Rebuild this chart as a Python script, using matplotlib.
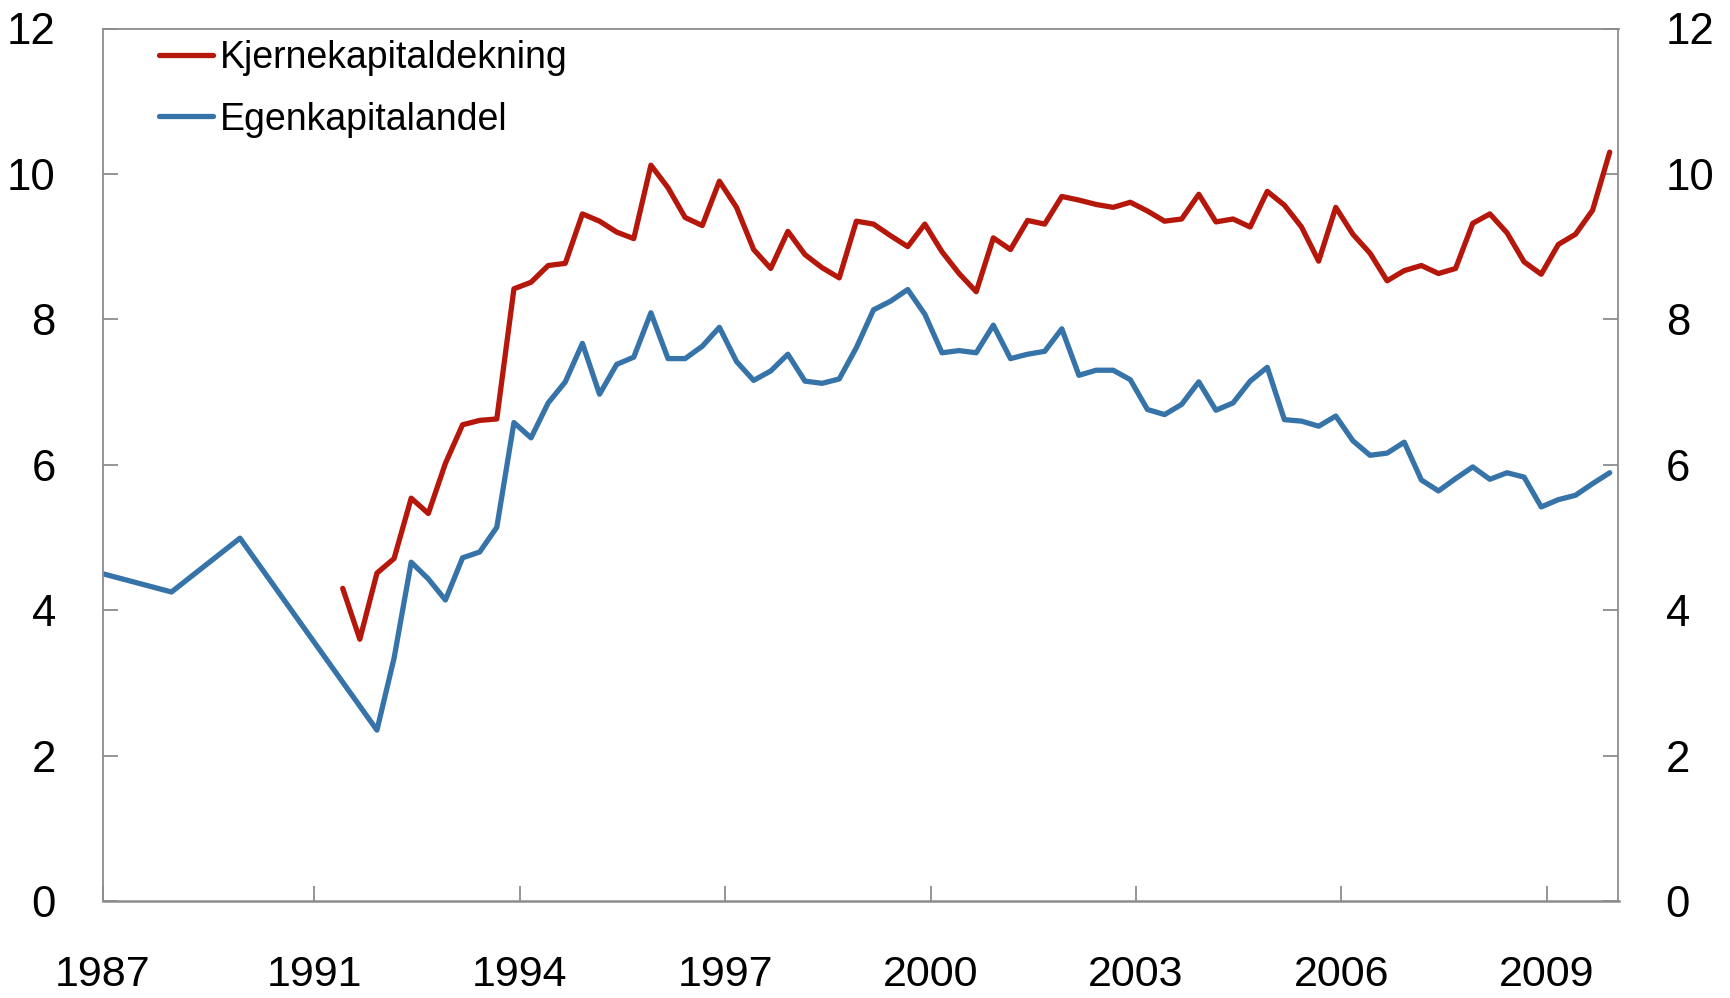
import matplotlib
matplotlib.use("Agg")
import matplotlib.pyplot as plt
import pandas as pd

plt.rcParams['font.family'] = ['Liberation Sans', 'DejaVu Sans']

# Egenkapitalandel: annual 1987-1989, then quarterly from 1991Q4
egen_years = [1987, 1988, 1989]
egen_annual = [4.50, 4.25, 4.99]
egen_start = '1991Q4'
egen_q = [2.35,
          3.34, 4.66, 4.43, 4.14,
          4.72, 4.80, 5.14, 6.58,
          6.37, 6.85, 7.14, 7.67,
          6.97, 7.38, 7.48, 8.09,
          7.46, 7.46, 7.63, 7.89,
          7.42, 7.16, 7.29, 7.52,
          7.15, 7.12, 7.18, 7.61,
          8.13, 8.25, 8.41, 8.07,
          7.54, 7.57, 7.54, 7.92,
          7.46, 7.52, 7.56, 7.87,
          7.23, 7.30, 7.30, 7.17,
          6.76, 6.69, 6.83, 7.14,
          6.75, 6.85, 7.15, 7.34,
          6.62, 6.60, 6.53, 6.67,
          6.33, 6.13, 6.16, 6.31,
          5.79, 5.64, 5.81, 5.97,
          5.80, 5.89, 5.83, 5.42,
          5.52, 5.58, 5.74, 5.89]

# Kjernekapitaldekning: quarterly from 1991Q2
kjerne_start = '1991Q2'
kjerne_q = [4.30, 3.60, 4.51,
            4.71, 5.54, 5.33, 6.02,
            6.55, 6.61, 6.63, 8.42,
            8.51, 8.74, 8.77, 9.45,
            9.35, 9.20, 9.11, 10.12,
            9.81, 9.40, 9.29, 9.90,
            9.54, 8.96, 8.70, 9.21,
            8.89, 8.71, 8.57, 9.35,
            9.31, 9.15, 9.00, 9.31,
            8.93, 8.63, 8.38, 9.12,
            8.96, 9.36, 9.31, 9.69,
            9.64, 9.58, 9.54, 9.61,
            9.49, 9.35, 9.38, 9.72,
            9.34, 9.38, 9.27, 9.76,
            9.57, 9.27, 8.80, 9.54,
            9.17, 8.91, 8.53, 8.67,
            8.74, 8.63, 8.70, 9.32,
            9.45, 9.19, 8.79, 8.62,
            9.03, 9.17, 9.50, 10.30]

tick_years = [1991, 1994, 1997, 2000, 2003, 2006, 2009]
yticks = [0, 2, 4, 6, 8, 10, 12]

red = '#B5170B'
blue = '#3673A8'
gray = '#8C8C8C'


def quarter_x(start, n):
    # points sit at the last month of each quarter
    p = pd.period_range(start, periods=n, freq='Q')
    return list(p.year + (3 * p.quarter - 1) / 12)


egen_x = [y + 11 / 12 for y in egen_years] + quarter_x(egen_start, len(egen_q))
egen_y = egen_annual + egen_q
kjerne_x = quarter_x(kjerne_start, len(kjerne_q))

fig = plt.figure(figsize=(17.31, 9.98), dpi=100)
ax = fig.add_axes([103 / 1731, 1 - 901 / 998, (1618.5 - 103) / 1731, (901 - 28.5) / 998])

ax.plot(kjerne_x, kjerne_q, color=red, lw=3.8, solid_capstyle='round',
        label='Kjernekapitaldekning')
ax.plot(egen_x, egen_y, color=blue, lw=3.8, solid_capstyle='round',
        label='Egenkapitalandel')

x0 = 1987 + 11 / 12
ax.set_xlim(x0, 2010.045)
ax.set_ylim(0, 12)
ax.set_xticks([x0] + tick_years)
ax.set_xticklabels(['1987'] + [str(y) for y in tick_years])
ax.set_yticks(yticks)
ax.set_yticklabels([str(v) for v in yticks])

for s in ax.spines.values():
    s.set_color(gray)
    s.set_linewidth(1.3)
ax.spines['bottom'].set_linewidth(1.8)

ax.tick_params(axis='y', left=True, right=True, labelleft=True, labelright=True,
               direction='in', length=11, width=1.3, color=gray, pad=34,
               labelsize=31.5)
ax.tick_params(axis='x', direction='in', length=11, width=1.3, color=gray,
               pad=39, labelsize=31)

ax.legend(loc='upper left', bbox_to_anchor=(159 / 1731, 1 - 40 / 998),
          bbox_transform=fig.transFigure, frameon=False, fontsize=27,
          handlelength=1.44, handletextpad=0.19, labelspacing=0.68,
          borderpad=0, borderaxespad=0)

fig.savefig('out.png', dpi=100)
